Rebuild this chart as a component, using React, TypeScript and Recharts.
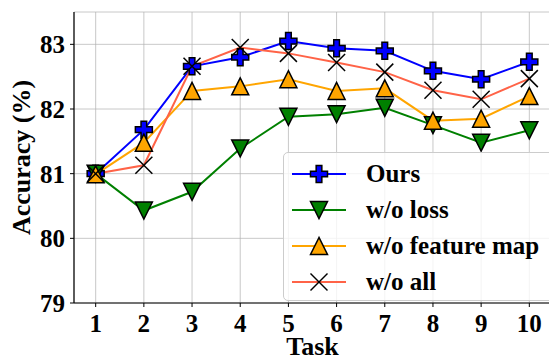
import React from "react";
import {
  LineChart,
  Line,
  XAxis,
  YAxis,
  CartesianGrid,
  Legend,
} from "recharts";

const tasks = [1, 2, 3, 4, 5, 6, 7, 8, 9, 10];
const ours = [81.0, 81.68, 82.66, 82.8, 83.05, 82.94, 82.9, 82.59, 82.46, 82.73];
const woLoss = [81.0, 80.43, 80.72, 81.39, 81.88, 81.92, 82.02, 81.75, 81.48, 81.67];
const woFeatureMap = [80.99, 81.48, 82.28, 82.35, 82.46, 82.28, 82.32, 81.82, 81.85, 82.2];
const woAll = [81.0, 81.13, 82.66, 82.95, 82.86, 82.72, 82.57, 82.29, 82.15, 82.47];
const yTicks = [79, 80, 81, 82, 83];

const data = tasks.map((t, i) => ({
  task: t,
  ours: ours[i],
  woLoss: woLoss[i],
  woFeatureMap: woFeatureMap[i],
  woAll: woAll[i],
}));

const FONT = "'Liberation Serif', 'Times New Roman', serif";
const MS = 17;

type MarkerKind = "plus" | "down" | "up" | "x";

const Marker = ({ kind, cx, cy, fill }: { kind: MarkerKind; cx: number; cy: number; fill: string }) => {
  const a = MS / 2;
  if (kind === "plus") {
    const b = MS / 6;
    const pts = [
      [-b, -a], [b, -a], [b, -b], [a, -b], [a, b], [b, b],
      [b, a], [-b, a], [-b, b], [-a, b], [-a, -b], [-b, -b],
    ]
      .map(([x, y]) => `${cx + x},${cy + y}`)
      .join(" ");
    return <polygon points={pts} fill={fill} stroke="#000" strokeWidth={1.5} strokeLinejoin="miter" />;
  }
  if (kind === "down") {
    const pts = `${cx - a},${cy - a} ${cx + a},${cy - a} ${cx},${cy + a}`;
    return <polygon points={pts} fill={fill} stroke="#000" strokeWidth={1.5} />;
  }
  if (kind === "up") {
    const pts = `${cx},${cy - a} ${cx - a},${cy + a} ${cx + a},${cy + a}`;
    return <polygon points={pts} fill={fill} stroke="#000" strokeWidth={1.5} />;
  }
  return (
    <g stroke="#000" strokeWidth={1.5}>
      <line x1={cx - a} y1={cy - a} x2={cx + a} y2={cy + a} />
      <line x1={cx - a} y1={cy + a} x2={cx + a} y2={cy - a} />
    </g>
  );
};

const series: { key: string; name: string; color: string; kind: MarkerKind }[] = [
  { key: "ours", name: "Ours", color: "#0000ff", kind: "plus" },
  { key: "woLoss", name: "w/o loss", color: "#008000", kind: "down" },
  { key: "woFeatureMap", name: "w/o feature map", color: "#ffa500", kind: "up" },
  { key: "woAll", name: "w/o all", color: "#ff6347", kind: "x" },
];

const makeDot = (kind: MarkerKind, fill: string) => (props: any) => {
  const { cx, cy, index } = props;
  return <Marker key={`${kind}-${index}`} kind={kind} cx={cx} cy={cy} fill={fill} />;
};

const LegendBox = () => (
  <div
    style={{
      width: 280,
      height: 149,
      border: "1px solid #cccccc",
      borderRadius: 5,
      background: "rgba(255,255,255,0.8)",
      boxSizing: "border-box",
      paddingTop: 3,
    }}
  >
    {series.map((s) => (
      <div key={s.key} style={{ display: "flex", alignItems: "center", height: 36 }}>
        <svg width={72} height={30}>
          <line x1={8} y1={15} x2={62} y2={15} stroke={s.color} strokeWidth={2} />
          <Marker kind={s.kind} cx={35} cy={15} fill={s.color} />
        </svg>
        <span
          style={{
            marginLeft: 10,
            fontFamily: FONT,
            fontWeight: "bold",
            fontSize: 25,
            color: "#000",
            whiteSpace: "nowrap",
          }}
        >
          {s.name}
        </span>
      </div>
    ))}
  </div>
);

const tickStyle = { fontFamily: FONT, fontWeight: "bold" as const, fontSize: 25, fill: "#000" };
const titleStyle = { fontFamily: FONT, fontWeight: "bold" as const, fontSize: 26, fill: "#000" };

export default function App() {
  return (
    <div style={{ position: "absolute", left: 0, top: 0, width: 549, height: 358, overflow: "hidden", background: "#fff" }}>
      <LineChart width={551} height={358} data={data} margin={{ top: 12, right: 0, left: 0, bottom: 0 }}>
        <CartesianGrid stroke="#b0b0b0" strokeOpacity={0.7} strokeWidth={1} />
        <XAxis
          dataKey="task"
          type="number"
          domain={[0.55, 10.45]}
          ticks={tasks}
          allowDataOverflow
          height={55}
          tick={tickStyle}
          tickSize={4}
          tickMargin={7}
          tickLine={{ stroke: "#000" }}
          axisLine={{ stroke: "#000", strokeWidth: 1.2 }}
          label={{
            content: (p: any) => {
              const vb = p.viewBox || { x: 74, width: 477, y: 303, height: 55 };
              const cx = vb.x + vb.width / 2;
              return (
                <text x={cx} y={vb.y + 52} textAnchor="middle" style={titleStyle}>
                  Task
                </text>
              );
            },
          }}
        />
        <XAxis
          xAxisId="top"
          dataKey="task"
          type="number"
          orientation="top"
          domain={[0.55, 10.45]}
          allowDataOverflow
          height={0}
          tick={false}
          tickLine={false}
          axisLine={{ stroke: "#000", strokeWidth: 1.2 }}
        />
        <YAxis
          type="number"
          domain={[79, 83.5]}
          ticks={yTicks}
          allowDataOverflow
          width={74}
          tick={tickStyle}
          tickSize={4}
          tickMargin={5}
          tickLine={{ stroke: "#000" }}
          axisLine={{ stroke: "#000", strokeWidth: 1.2 }}
          label={{
            content: (p: any) => {
              const vb = p.viewBox || { y: 12, height: 291 };
              const cy = vb.y + vb.height / 2;
              return (
                <text
                  x={30}
                  y={cy}
                  transform={`rotate(-90 30 ${cy})`}
                  textAnchor="middle"
                  style={titleStyle}
                >
                  Accuracy (%)
                </text>
              );
            },
          }}
        />
        {series.map((s) => (
          <Line
            key={s.key}
            dataKey={s.key}
            name={s.name}
            stroke={s.color}
            strokeWidth={2}
            isAnimationActive={false}
            dot={makeDot(s.kind, s.color)}
            activeDot={false}
          />
        ))}
        <Legend
          layout="vertical"
          align="center"
          verticalAlign="middle"
          wrapperStyle={{ left: 283, top: 152, width: 280 }}
          content={() => <LegendBox />}
        />
      </LineChart>
    </div>
  );
}
